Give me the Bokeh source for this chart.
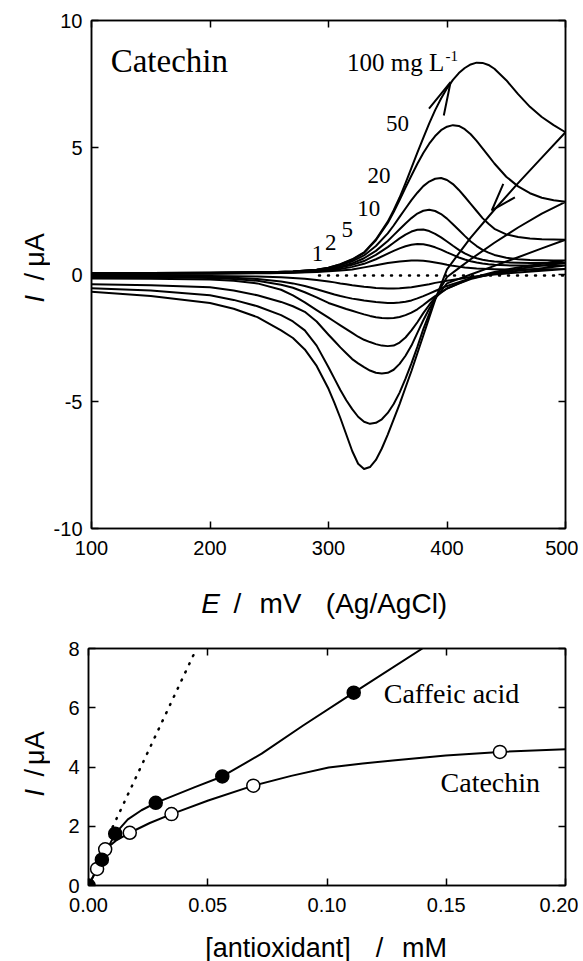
import math
from bokeh.plotting import figure
from bokeh.models import Range1d, FixedTicker, LinearAxis, PrintfTickFormatter, CustomJSTickFormatter
from bokeh.layouts import column, row
from bokeh.embed import file_html
from bokeh.resources import INLINE
from bokeh.core.properties import value

# ---------------- Top panel: cyclic voltammograms of catechin ----------------
E_fwd = [100, 150, 200, 250, 270, 290, 300, 310, 320, 330, 340, 350,
         355, 360, 365, 370, 375, 380, 385, 390, 395, 400, 405, 410, 415, 420, 425, 430, 435, 440,
         450, 460, 470, 480, 490, 500]
I1_fwd = [0.02, 0.02, 0.03, 0.05, 0.07, 0.1, 0.13, 0.16, 0.2, 0.28, 0.36, 0.45,
          0.48, 0.51, 0.53, 0.55, 0.55, 0.54, 0.51, 0.47, 0.43, 0.38, 0.34, 0.31, 0.28, 0.26, 0.24, 0.23, 0.22, 0.21,
          0.2, 0.2, 0.2, 0.21, 0.21, 0.22]
I2_fwd = [0.03, 0.03, 0.04, 0.06, 0.08, 0.12, 0.16, 0.22, 0.3, 0.42, 0.6, 0.82,
          0.93, 1.03, 1.11, 1.17, 1.2, 1.19, 1.14, 1.07, 0.98, 0.87, 0.77, 0.67, 0.59, 0.52, 0.47, 0.43, 0.4, 0.38,
          0.36, 0.35, 0.35, 0.35, 0.35, 0.35]
I5_fwd = [0.04, 0.04, 0.05, 0.07, 0.09, 0.14, 0.19, 0.27, 0.38, 0.53, 0.77, 1.08,
          1.25, 1.42, 1.57, 1.69, 1.76, 1.77, 1.71, 1.6, 1.46, 1.3, 1.13, 0.97, 0.83, 0.72, 0.64, 0.58, 0.54, 0.51,
          0.48, 0.46, 0.45, 0.45, 0.45, 0.45]
I10_fwd = [0.05, 0.05, 0.06, 0.08, 0.1, 0.16, 0.22, 0.31, 0.44, 0.64, 0.93, 1.32,
           1.55, 1.78, 2.01, 2.22, 2.4, 2.51, 2.55, 2.5, 2.38, 2.2, 1.98, 1.75, 1.52, 1.3, 1.12, 0.97, 0.86, 0.77,
           0.66, 0.6, 0.57, 0.56, 0.55, 0.55]
I20_fwd = [0.06, 0.06, 0.07, 0.09, 0.12, 0.18, 0.25, 0.36, 0.52, 0.75, 1.12, 1.62,
           1.93, 2.27, 2.6, 2.93, 3.22, 3.48, 3.66, 3.77, 3.8, 3.72, 3.56, 3.33, 3.06, 2.78, 2.5, 2.22, 2.0, 1.8,
           1.58, 1.48, 1.42, 1.39, 1.38, 1.37]
I50_fwd = [0.06, 0.06, 0.07, 0.09, 0.12, 0.19, 0.27, 0.4, 0.58, 0.85, 1.35, 2.03,
           2.46, 2.93, 3.42, 3.9, 4.36, 4.78, 5.15, 5.45, 5.68, 5.82, 5.88, 5.85, 5.72, 5.52, 5.26, 4.97, 4.67, 4.37,
           3.85, 3.47, 3.2, 3.02, 2.92, 2.86]
I100_fwd = [0.06, 0.06, 0.07, 0.09, 0.12, 0.19, 0.27, 0.41, 0.6, 0.87, 1.38, 2.08,
            2.53, 3.03, 3.6, 4.2, 4.8, 5.38, 5.95, 6.47, 6.93, 7.33, 7.66, 7.93, 8.13, 8.27, 8.34, 8.33, 8.25, 8.1,
            7.65, 7.1, 6.6, 6.2, 5.88, 5.6]

E_rev = [500, 480, 460, 440, 420, 410, 400,
         395, 390, 385, 380, 375, 370, 365, 360, 355, 350, 345, 340, 335, 330, 325, 320, 315, 310, 305, 300,
         290, 280, 270, 260, 240, 220, 200, 150, 100]
I1_rev = [0.22, 0.15, 0.08, 0.0, -0.1, -0.18, -0.25,
          -0.29, -0.33, -0.38, -0.42, -0.46, -0.5, -0.52, -0.54, -0.55, -0.55, -0.54, -0.53, -0.5, -0.48, -0.45,
          -0.42, -0.38, -0.35, -0.31, -0.28,
          -0.22, -0.17, -0.14, -0.11, -0.08, -0.07, -0.06, -0.05, -0.05]
I2_rev = [0.35, 0.25, 0.15, 0.03, -0.15, -0.3, -0.45,
          -0.55, -0.65, -0.75, -0.85, -0.94, -1.02, -1.07, -1.1, -1.12, -1.12, -1.1, -1.08, -1.05, -1.02, -0.98,
          -0.95, -0.9, -0.85, -0.79, -0.72,
          -0.58, -0.45, -0.35, -0.28, -0.18, -0.13, -0.1, -0.08, -0.07]
I5_rev = [0.45, 0.35, 0.22, 0.05, -0.18, -0.36, -0.55,
          -0.7, -0.85, -1.02, -1.2, -1.37, -1.5, -1.6, -1.67, -1.71, -1.72, -1.71, -1.68, -1.63, -1.57, -1.5,
          -1.43, -1.36, -1.28, -1.2, -1.12,
          -0.9, -0.7, -0.52, -0.4, -0.25, -0.18, -0.14, -0.11, -0.1]
I10_rev = [0.55, 0.42, 0.28, 0.1, -0.15, -0.35, -0.55,
           -0.72, -0.9, -1.2, -1.52, -1.88, -2.2, -2.48, -2.68, -2.8, -2.82, -2.8, -2.74, -2.66, -2.57, -2.45,
           -2.3, -2.15, -2.0, -1.85, -1.7,
           -1.4, -1.1, -0.82, -0.6, -0.35, -0.25, -0.2, -0.17, -0.16]
I20_rev = [1.37, 1.03, 0.68, 0.34, 0.0, -0.17, -0.35,
           -0.65, -0.95, -1.35, -1.8, -2.3, -2.8, -3.2, -3.52, -3.75, -3.87, -3.9, -3.87, -3.78, -3.65, -3.5,
           -3.33, -3.1, -2.87, -2.62, -2.37,
           -1.85, -1.47, -1.25, -1.08, -0.82, -0.63, -0.5, -0.42, -0.38]
I50_rev = [2.86, 2.4, 1.85, 1.25, 0.6, 0.25, -0.1,
           -0.5, -0.95, -1.55, -2.15, -2.85, -3.5, -4.1, -4.65, -5.1, -5.45, -5.7, -5.84, -5.88, -5.8, -5.6,
           -5.3, -4.95, -4.55, -4.1, -3.65,
           -2.8, -2.2, -1.85, -1.6, -1.25, -1.0, -0.82, -0.63, -0.54]
I100_rev = [5.6, 4.6, 3.6, 2.55, 1.45, 0.83, 0.2,
            -0.4, -1.0, -1.7, -2.4, -3.1, -3.8, -4.45, -5.1, -5.7, -6.3, -6.85, -7.3, -7.58, -7.66, -7.45,
            -6.95, -6.3, -5.65, -5.05, -4.5,
            -3.6, -2.95, -2.5, -2.2, -1.68, -1.35, -1.12, -0.85, -0.68]

blank_E = [292, 500]
blank_I = [-0.04, -0.04]

# arrow heads on the 100 mg/L voltammogram (tip and two arm ends)
arrow_tip_E = [403, 437.8]
arrow_tip_I = [7.57, 2.52]
arrow_arm1_E = [384.8, 447.5]
arrow_arm1_I = [6.53, 3.57]
arrow_arm2_E = [397.3, 457.3]
arrow_arm2_I = [6.26, 3.04]

# concentration labels (mg/L) beside the anodic waves
curve_labels = ["50", "20", "10", "5", "2", "1"]
curve_label_E = [348.5, 333, 324.3, 311, 297, 285.8]
curve_label_I = [5.93, 3.90, 2.59, 1.76, 1.25, 0.83]

top_x_ticks = [100, 200, 300, 400, 500]
top_y_ticks = [-10, -5, 0, 5, 10]

# ---------------- Bottom panel: calibration ----------------
caffeic_conc = [0.0, 0.0056, 0.0112, 0.0282, 0.0561, 0.1112]
caffeic_I = [0.0, 0.87, 1.75, 2.79, 3.68, 6.51]
catechin_conc = [0.0036, 0.0070, 0.0173, 0.0348, 0.0691, 0.1725]
catechin_I = [0.56, 1.22, 1.78, 2.41, 3.37, 4.51]

caffeic_fit_x = [0.0, 0.0056, 0.0112, 0.0165, 0.0222, 0.0282, 0.0446, 0.0561, 0.0726, 0.0900, 0.1112, 0.140]
caffeic_fit_y = [0.0, 0.87, 1.75, 2.23, 2.54, 2.79, 3.32, 3.68, 4.45, 5.4, 6.51, 8.0]
catechin_fit_x = [0.0, 0.0036, 0.0070, 0.0116, 0.0173, 0.0257, 0.0348, 0.0502, 0.0691, 0.085, 0.1007,
                  0.1150, 0.1287, 0.1498, 0.1725, 0.200]
catechin_fit_y = [0.0, 0.56, 1.22, 1.52, 1.78, 2.11, 2.41, 2.87, 3.37, 3.7, 3.98, 4.12, 4.23, 4.39, 4.51, 4.60]
initial_slope_x = [0.0101, 0.0453]
initial_slope_y = [1.97, 8.0]

bottom_x_ticks = [0.0, 0.05, 0.10, 0.15, 0.20]
bottom_y_ticks = [0, 2, 4, 6, 8]

SANS = "Liberation Sans"
SERIF = "Liberation Serif"
TICK_SIZE = "20px"


def style_axis(ax, ticks, labels=True):
    ax.ticker = FixedTicker(ticks=ticks)
    ax.major_tick_in = 7
    ax.major_tick_out = 0
    ax.minor_tick_line_color = None
    ax.axis_line_color = "black"
    ax.axis_line_width = 1.5
    ax.major_tick_line_color = "black"
    ax.major_tick_line_width = 1.5
    ax.axis_label = None
    if labels:
        ax.major_label_text_font = SANS
        ax.major_label_text_font_size = TICK_SIZE
        ax.major_label_text_color = "black"
    else:
        ax.formatter = CustomJSTickFormatter(code="return '';")
        ax.major_label_text_font_size = "0px"
        ax.major_label_standoff = 0


def make_fig(width, height, xr, yr, bl, br, bt, bb):
    p = figure(width=width, height=height, x_range=Range1d(*xr), y_range=Range1d(*yr),
               output_backend="svg", toolbar_location=None,
               min_border_left=bl, min_border_right=br, min_border_top=bt, min_border_bottom=bb)
    p.grid.visible = False
    p.outline_line_color = "black"
    p.outline_line_width = 1.5
    p.background_fill_color = "white"
    p.border_fill_color = "white"
    return p


def make_strip(width, height):
    s = figure(width=width, height=height, x_range=Range1d(0, width), y_range=Range1d(0, height),
               x_axis_type=None, y_axis_type=None, output_backend="svg", toolbar_location=None,
               min_border=0, min_border_left=0, min_border_right=0, min_border_top=0, min_border_bottom=0)
    s.outline_line_color = None
    s.background_fill_color = "white"
    s.border_fill_color = "white"
    return s


def put_text(fig, x, y, txt, size, font=SANS, style="normal", angle=0.0, align="center"):
    fig.text(x=[x], y=[y], text=[txt], text_font=value(font), text_font_size=size,
             text_font_style=style, angle=angle, text_align=align, text_baseline="middle",
             text_color="black")


# ---------------- top figure ----------------
p1 = make_fig(528, 568, (100, 500), (-10, 10), 38, 13, 20, 40)
style_axis(p1.xaxis[0], top_x_ticks)
p1.xaxis[0].major_label_standoff = 12
style_axis(p1.yaxis[0], top_y_ticks)
p1.yaxis[0].major_label_standoff = 9
p1.yaxis[0].formatter = PrintfTickFormatter(format="%d")
ax_top = LinearAxis()
style_axis(ax_top, top_x_ticks, labels=False)
p1.add_layout(ax_top, "above")
ax_right = LinearAxis()
style_axis(ax_right, top_y_ticks, labels=False)
p1.add_layout(ax_right, "right")

fwd_sets = [I1_fwd, I2_fwd, I5_fwd, I10_fwd, I20_fwd, I50_fwd, I100_fwd]
rev_sets = [I1_rev, I2_rev, I5_rev, I10_rev, I20_rev, I50_rev, I100_rev]
for fwd, rev in zip(fwd_sets, rev_sets):
    p1.line(E_fwd + E_rev, fwd + rev, line_color="black", line_width=2, line_join="round")

p1.line(blank_E, blank_I, line_color="black", line_width=2.5, line_dash="1 8", line_cap="round")

arrow_xs = [[a1, t, a2] for a1, t, a2 in zip(arrow_arm1_E, arrow_tip_E, arrow_arm2_E)]
arrow_ys = [[a1, t, a2] for a1, t, a2 in zip(arrow_arm1_I, arrow_tip_I, arrow_arm2_I)]
p1.multi_line(arrow_xs, arrow_ys, line_color="black", line_width=2)

put_text(p1, 116.2, 8.40, "Catechin", "33px", font=SERIF, align="left")
put_text(p1, 315.6, 8.36, "100 mg L", "25px", font=SERIF, align="left")
put_text(p1, 398.7, 8.62, "-1", "15px", font=SERIF, align="left")
p1.text(x=curve_label_E, y=curve_label_I, text=curve_labels, text_font=value(SERIF),
        text_font_size="23px", text_baseline="middle", text_align="left", text_color="black")

# y-title strip for the top panel (page x 0..50, y 0..568)
ylab1 = make_strip(50, 568)
put_text(ylab1, 34.5, 257, "I", "27px", style="italic", angle=math.pi / 2)
put_text(ylab1, 34.5, 281.5, "/", "27px", angle=math.pi / 2)
put_text(ylab1, 34.5, 311.5, "\u03bcA", "27px", angle=math.pi / 2)

# x-title strip for the top panel (page y 568..636)
xlab1 = make_strip(578, 68)
put_text(xlab1, 210, 33, "E", "28px", style="italic")
put_text(xlab1, 237, 33, "/", "28px")
put_text(xlab1, 280, 33, "mV", "28px")
put_text(xlab1, 386, 33, "(Ag/AgCl)", "28px")

# ---------------- bottom figure ----------------
p2 = make_fig(528, 289, (0, 0.2), (0, 8), 38, 13, 12, 40)
style_axis(p2.xaxis[0], bottom_x_ticks)
p2.xaxis[0].formatter = PrintfTickFormatter(format="%.2f")
p2.xaxis[0].major_label_standoff = 12
style_axis(p2.yaxis[0], bottom_y_ticks)
p2.yaxis[0].major_label_standoff = 9
p2.yaxis[0].formatter = PrintfTickFormatter(format="%d")
ax_top2 = LinearAxis()
style_axis(ax_top2, bottom_x_ticks, labels=False)
p2.add_layout(ax_top2, "above")
ax_right2 = LinearAxis()
style_axis(ax_right2, bottom_y_ticks, labels=False)
p2.add_layout(ax_right2, "right")

p2.line(initial_slope_x, initial_slope_y, line_color="black", line_width=2.5, line_dash="1 8", line_cap="round")
p2.line(caffeic_fit_x, caffeic_fit_y, line_color="black", line_width=2, line_join="round")
p2.line(catechin_fit_x, catechin_fit_y, line_color="black", line_width=2, line_join="round")
p2.scatter(catechin_conc, catechin_I, marker="circle", size=13, fill_color="white",
           line_color="black", line_width=1.5)
p2.scatter(caffeic_conc, caffeic_I, marker="circle", size=13, fill_color="black",
           line_color="black", line_width=1.5)

put_text(p2, 0.1238, 6.48, "Caffeic acid", "28px", font=SERIF, align="left")
put_text(p2, 0.1476, 3.49, "Catechin", "28px", font=SERIF, align="left")

# y-title strip for the bottom panel (page y 636..925)
ylab2 = make_strip(50, 289)
put_text(ylab2, 34.5, 113, "I", "27px", style="italic", angle=math.pi / 2)
put_text(ylab2, 34.5, 137.5, "/", "27px", angle=math.pi / 2)
put_text(ylab2, 34.5, 167.5, "\u03bcA", "27px", angle=math.pi / 2)

# x-title strip for the bottom panel (page y 925..961)
xlab2 = make_strip(578, 36)
put_text(xlab2, 277.5, 14, "[antioxidant]", "27px")
put_text(xlab2, 379, 14, "/", "27px")
put_text(xlab2, 424, 14, "mM", "27px")

layout = column(row(ylab1, p1), xlab1, row(ylab2, p2), xlab2)
open("out.html", "w").write(file_html(layout, INLINE))
